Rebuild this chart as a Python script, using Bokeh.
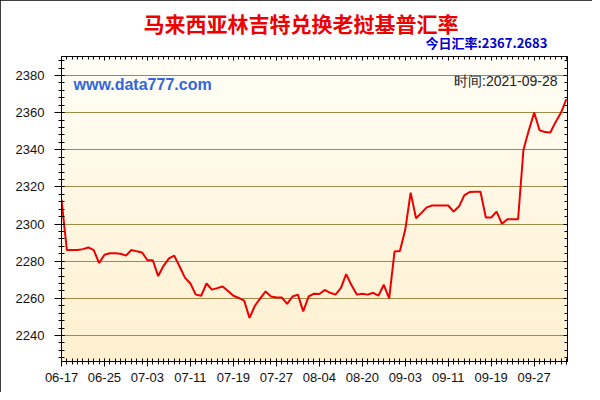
import numpy as np
from bokeh.plotting import figure
from bokeh.models import Range1d, FixedTicker, SingleIntervalTicker, LinearAxis, Label, Title
from bokeh.embed import file_html
from bokeh.resources import INLINE

# ---- data ----
rates = [
    2313.0, 2286.0, 2286.0, 2286.0, 2286.5, 2287.4, 2286.0, 2279.0, 2283.5, 2284.3,
    2284.3, 2284.0, 2283.0, 2286.0, 2285.3, 2284.7, 2280.5, 2280.5, 2272.0, 2277.5,
    2281.5, 2283.0, 2277.0, 2271.0, 2268.0, 2262.0, 2261.4, 2268.0, 2264.7, 2265.5,
    2266.4, 2264.0, 2261.4, 2260.2, 2258.8, 2249.5, 2256.0, 2260.0, 2263.7, 2261.0,
    2260.5, 2260.5, 2257.0, 2261.0, 2262.0, 2253.0, 2261.0, 2262.5, 2262.3, 2264.5,
    2263.0, 2262.0, 2265.5, 2273.0, 2267.0, 2262.0, 2262.5, 2262.0, 2263.0, 2261.4,
    2267.3, 2260.0, 2285.2, 2285.5, 2297.0, 2316.9, 2303.1, 2306.0, 2309.0, 2310.0,
    2310.0, 2310.0, 2310.0, 2306.7, 2309.4, 2315.6, 2317.2, 2317.4, 2317.4, 2303.5,
    2303.5, 2306.7, 2300.1, 2302.6, 2302.6, 2302.6, 2340.0, 2350.5, 2360.0, 2350.5,
    2349.5, 2349.3, 2355.0, 2360.0, 2367.2683,
]
tick_positions = [0, 8, 16, 24, 32, 40, 48, 56, 64, 72, 80, 88]
tick_labels = ["06-17", "06-25", "07-03", "07-11", "07-19", "07-27",
               "08-04", "08-20", "09-03", "09-11", "09-19", "09-27"]
title_text = "马来西亚林吉特兑换老挝基普汇率"
today_text = "今日汇率:2367.2683"
time_text = "时间:2021-09-28"
site_text = "www.data777.com"

x = list(range(len(rates)))

W, H = 592, 392
p = figure(width=W, height=H, output_backend="svg", toolbar_location=None,
           x_range=Range1d(0, 94.2), y_range=Range1d(2226, 2390.2),
           min_border_left=61, min_border_right=25, min_border_top=56, min_border_bottom=31)
p.styles = {"outline": "1px solid #000", "outline-offset": "-1px"}
p.background_fill_color = "#FFF7E3"
p.border_fill_color = "white"
p.outline_line_color = "black"
p.outline_line_width = 1

# gradient background
ncol = 64
top = np.array([255, 254, 246])
bot = np.array([255, 240, 208])
img = np.zeros((ncol, 1), dtype=np.uint32)
view = img.view(dtype=np.uint8).reshape((ncol, 1, 4))
for k in range(ncol):
    t = k / (ncol - 1)
    c = bot * (1 - t) + top * t
    view[k, 0, 0] = int(c[0]); view[k, 0, 1] = int(c[1]); view[k, 0, 2] = int(c[2]); view[k, 0, 3] = 255
xr, yr = p.x_range, p.y_range
p.image_rgba(image=[img], x=xr.start, y=yr.start, dw=xr.end - xr.start, dh=yr.end - yr.start, level="image")

# axes
yt = SingleIntervalTicker(interval=20, num_minor_ticks=5)
p.yaxis.ticker = yt
p.ygrid.ticker = yt
p.xgrid.visible = False
p.ygrid.grid_line_color = "#A08A48"
p.ygrid.grid_line_width = 1

xt = FixedTicker(ticks=tick_positions, minor_ticks=x)
p.xaxis.ticker = xt
p.xaxis.major_label_overrides = {pos: lab for pos, lab in zip(tick_positions, tick_labels)}

for ax in (p.xaxis[0], p.yaxis[0]):
    ax.axis_line_color = "black"
    ax.major_tick_line_color = "black"
    ax.minor_tick_line_color = "black"
    ax.major_tick_in = 3
    ax.major_tick_out = 5
    ax.minor_tick_in = 3
    ax.minor_tick_out = 3
    ax.major_label_text_font = "Liberation Sans"
    ax.major_label_text_font_size = "13px"
    ax.major_label_text_color = "#111"
p.yaxis.major_tick_out = 7
p.yaxis.major_label_standoff = 10
p.xaxis.major_label_standoff = 6

rax = LinearAxis(ticker=yt, major_label_text_font_size="0px", major_label_text_alpha=0,
                 major_label_standoff=0,
                 major_tick_in=4, major_tick_out=0, minor_tick_in=3, minor_tick_out=0,
                 axis_line_color="black")
p.add_layout(rax, "right")
tax = LinearAxis(ticker=xt, major_label_text_font_size="0px", major_label_text_alpha=0,
                 major_label_standoff=0,
                 major_tick_in=4, major_tick_out=0, minor_tick_in=3, minor_tick_out=0,
                 axis_line_color="black")
p.add_layout(tax, "above")

# titles (added nearest-first)
p.add_layout(Title(text=today_text, align="left", offset=364, standoff=9,
                   text_color="#0000CC", text_font="Noto Sans CJK SC",
                   text_font_style="bold", text_font_size="13px"), "above")
p.add_layout(Title(text=title_text, align="left", offset=82, standoff=-23,
                   text_color="#EE0000", text_font="Noto Sans CJK SC",
                   text_font_style="bold", text_font_size="21px"), "above")

# line
p.line(x, rates, line_color="#EE0000", line_width=2)

# texts inside frame (screen units relative to frame)
p.add_layout(Label(x=12, y=277, x_units="screen", y_units="screen", text=site_text,
                   text_align="left", text_baseline="middle", text_color="#3366DD",
                   text_font="Liberation Sans", text_font_style="bold", text_font_size="16px"))
p.add_layout(Label(x=496, y=281, x_units="screen", y_units="screen", text=time_text,
                   text_align="right", text_baseline="middle", text_color="#222",
                   text_font="Liberation Sans", text_font_size="14px"))

open("out.html", "w").write(file_html(p, INLINE))
